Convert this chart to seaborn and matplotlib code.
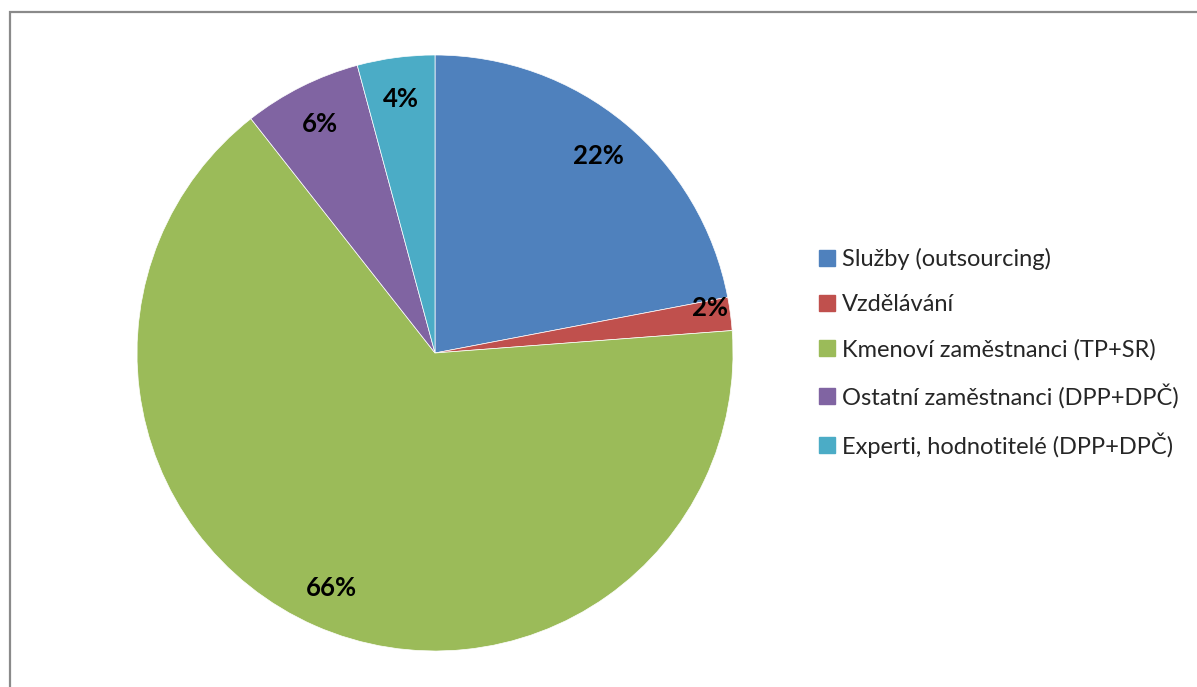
import matplotlib
matplotlib.use("Agg")
import matplotlib.pyplot as plt
from matplotlib.lines import Line2D
from matplotlib.patches import Rectangle
import numpy as np
import seaborn as sns

categories = [
    "Služby (outsourcing)",
    "Vzdělávání",
    "Kmenoví zaměstnanci (TP+SR)",
    "Ostatní zaměstnanci (DPP+DPČ)",
    "Experti, hodnotitelé (DPP+DPČ)",
]
shares = [22.0, 1.8, 65.6, 6.4, 4.2]
colors = ["#4F81BD", "#C0504D", "#9BBB59", "#8064A2", "#4BACC6"]

sns.set_theme(style="white")
plt.rcParams["font.family"] = ["Lato", "DejaVu Sans"]

W, H = 1197, 687
fig = plt.figure(figsize=(W / 100, H / 100), dpi=100)
fig.patch.set_facecolor("white")

# outer chart frame (runs off the right and bottom edges)
fig.patches.append(Rectangle((9.5 / W, -0.05), 1.2, 1 - 11.5 / H + 0.05,
                             transform=fig.transFigure, fill=False,
                             edgecolor="#8A8A8A", linewidth=1.6, zorder=0))

cx, cy, r = 435, 353, 298
ax = fig.add_axes([(cx - r) / W, (H - cy - r) / H, 2 * r / W, 2 * r / H])
palette = sns.color_palette(colors)
wedges, texts, autotexts = ax.pie(
    shares, colors=palette, startangle=90, counterclock=False,
    autopct="%.0f%%", pctdistance=0.86,
    wedgeprops=dict(edgecolor="white", linewidth=0.5),
    textprops=dict(fontsize=18.5, fontweight="bold", color="black"),
)
# nudge the thin slice's label outward along its bisector
for w, t, v in zip(wedges, autotexts, shares):
    if v < 3:
        ang = np.deg2rad((w.theta1 + w.theta2) / 2)
        t.set_position((0.93 * np.cos(ang), 0.93 * np.sin(ang) + 0.03))
ax.set_xlim(-1, 1)
ax.set_ylim(-1, 1)
ax.set_aspect("equal")
ax.axis("off")

handles = [Line2D([], [], marker="s", linestyle="", markersize=11,
                  markerfacecolor=c, markeredgecolor=c) for c in palette]
fig.legend(handles, categories, loc="center left",
           bbox_to_anchor=(816 / W, (H - 353) / H), frameon=False,
           fontsize=17, handlelength=0.9, handletextpad=0.2,
           labelspacing=1.0, borderpad=0, borderaxespad=0)

fig.savefig("out.png", dpi=100, facecolor="white")
